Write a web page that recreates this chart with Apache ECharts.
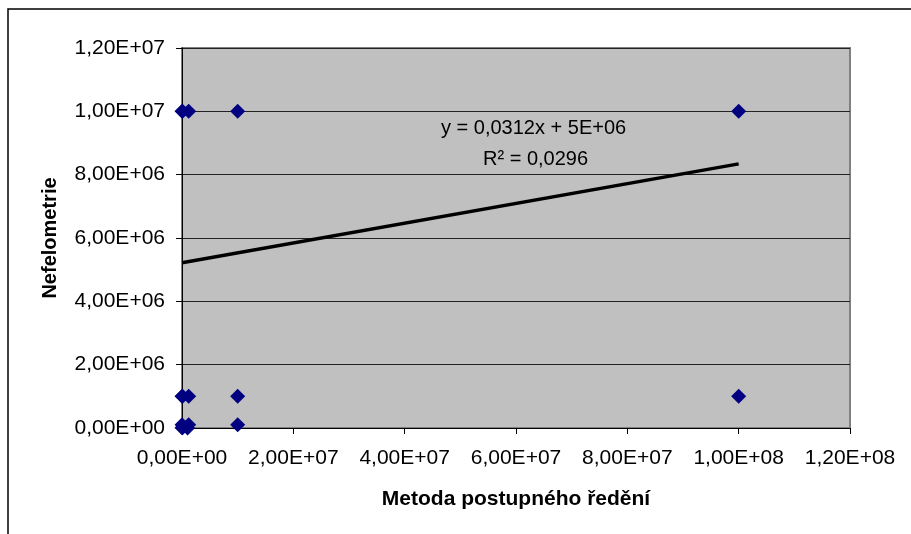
<!DOCTYPE html>
<html>
<head>
<meta charset="utf-8">
<script src="https://cdn.jsdelivr.net/npm/echarts@6/dist/echarts.min.js"></script>
<style>
html,body{margin:0;padding:0;background:#fff;}
#c{width:911px;height:534px;}
</style>
</head>
<body>
<div id="c"></div>
<script>
// Data
var xValues = [1e3, 1e5, 1.2e6, 1e7, 1e8, 1e3, 1e5, 1.2e6, 1e7, 1e8, 1e2, 1e4, 1e5, 1.2e6, 1e6, 1e7];
var yValues = [1e7, 1e7, 1e7, 1e7, 1e7, 1e6, 1e6, 1e6, 1e6, 1e6, 1e4, 1e5, 1e4, 1e5, 1e3, 1e5];
var trendX = [0, 1e8];
var trendY = [5.22e6, 8.34e6];
var xTickLabels = ['0,00E+00','2,00E+07','4,00E+07','6,00E+07','8,00E+07','1,00E+08','1,20E+08'];
var yTickLabels = ['0,00E+00','2,00E+06','4,00E+06','6,00E+06','8,00E+06','1,00E+07','1,20E+07'];
var xTitle = 'Metoda postupného ředění';
var yTitle = 'Nefelometrie';
var eqLine1 = 'y = 0,0312x + 5E+06';
var eqLine2 = 'R² = 0,0296';

var points = xValues.map(function(x, i){ return [x, yValues[i]]; });
var trend = trendX.map(function(x, i){ return [x, trendY[i]]; });
var font = "'Liberation Sans', Arial, sans-serif";

var chart = echarts.init(document.getElementById('c'), null, {renderer:'canvas'});
chart.setOption({
  animation: false,
  backgroundColor: '#fff',
  grid: {
    left: 182, right: 61, top: 48, bottom: 106,
    show: true, backgroundColor: '#c0c0c0', borderColor: '#808080', borderWidth: 2
  },
  xAxis: {
    type: 'value', min: 0, max: 1.2e8, interval: 2e7,
    name: xTitle, nameLocation: 'middle', nameGap: 61,
    nameTextStyle: {fontFamily: font, fontSize: 21, fontWeight: 'bold', color: '#000'},
    axisLine: {show: true, onZero: false, lineStyle: {color: '#000', width: 1}},
    axisTick: {show: true, inside: false, length: 6, lineStyle: {color: '#000'}},
    axisLabel: {
      margin: 20, color: '#000', fontFamily: font, fontSize: 21,
      formatter: function(v){ return xTickLabels[Math.round(v / 2e7)]; }
    },
    splitLine: {show: false}
  },
  yAxis: {
    type: 'value', min: 0, max: 1.2e7, interval: 2e6,
    name: yTitle, nameLocation: 'middle', nameGap: 122, nameRotate: 90,
    nameTextStyle: {fontFamily: font, fontSize: 20, fontWeight: 'bold', color: '#000'},
    axisLine: {show: true, onZero: false, lineStyle: {color: '#000', width: 1}},
    axisTick: {show: true, inside: false, length: 6, lineStyle: {color: '#000'}},
    axisLabel: {
      margin: 17, color: '#000', fontFamily: font, fontSize: 21,
      formatter: function(v){ return yTickLabels[Math.round(v / 2e6)]; }
    },
    splitLine: {show: true, lineStyle: {color: '#222', width: 1}}
  },
  graphic: [
    {type: 'rect', silent: true, z: 100,
     shape: {x: 8, y: 9, width: 1200, height: 1200},
     style: {fill: 'none', stroke: '#000', lineWidth: 1.5}},
    {type: 'text', silent: true, z: 100, left: 441, top: 118,
     style: {text: eqLine1, font: '20px ' + font, fill: '#000'}},
    {type: 'text', silent: true, z: 100, left: 483, top: 149,
     style: {text: eqLine2, font: '20px ' + font, fill: '#000'}}
  ],
  series: [
    {
      type: 'line', data: trend, symbol: 'none', z: 3,
      lineStyle: {color: '#000', width: 3.5}
    },
    {
      type: 'scatter', data: points, symbol: 'diamond', symbolSize: 15, z: 4,
      itemStyle: {color: '#000080', opacity: 1}
    }
  ]
});
</script>
</body>
</html>
